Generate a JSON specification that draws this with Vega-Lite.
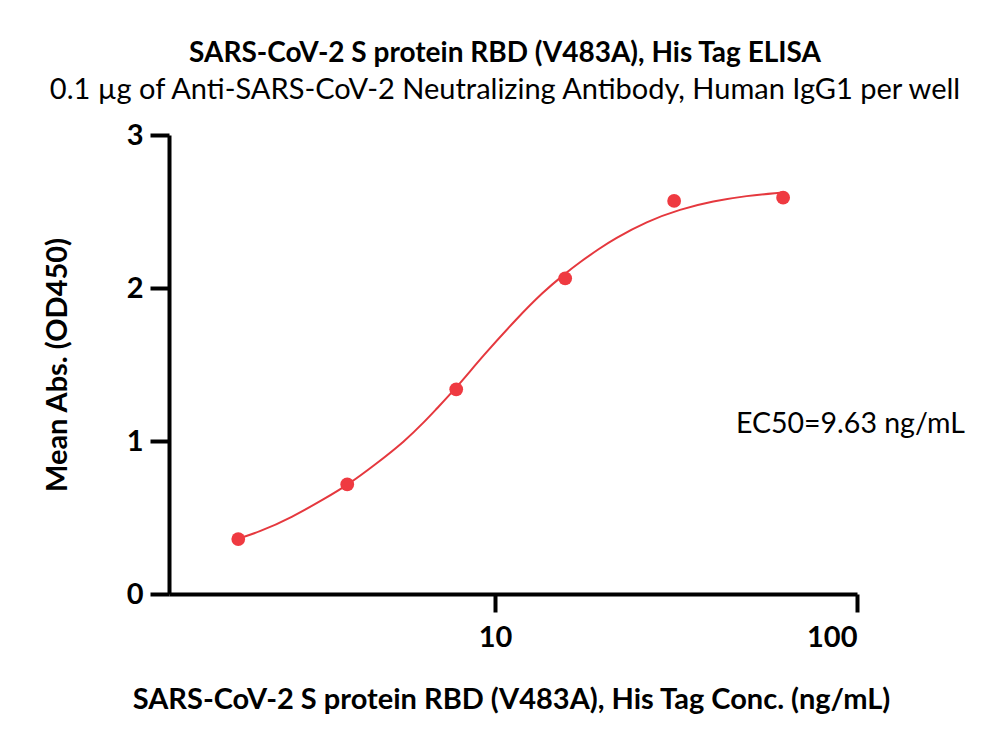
{
  "$schema": "https://vega.github.io/schema/vega-lite/v6.json",
  "width": 688,
  "height": 459,
  "autosize": "none",
  "padding": {"left": 169, "top": 135, "right": 143, "bottom": 157},
  "background": "white",
  "config": {"view": {"stroke": null}, "font": "Lato"},
  "title": {
    "text": "SARS-CoV-2 S protein RBD (V483A), His Tag ELISA",
    "subtitle": "0.1 µg of Anti-SARS-CoV-2 Neutralizing Antibody, Human IgG1 per well",
    "font": "Lato",
    "fontSize": 28,
    "fontWeight": "bold",
    "color": "black",
    "subtitleFont": "Lato",
    "subtitleFontSize": 29,
    "subtitleFontWeight": "normal",
    "subtitleColor": "black",
    "subtitlePadding": 8,
    "anchor": "middle",
    "frame": "group",
    "dx": -8,
    "offset": 16
  },
  "datasets": {
    "points": [
      {"conc": 1.953, "od": 0.359},
      {"conc": 3.906, "od": 0.716},
      {"conc": 7.813, "od": 1.338},
      {"conc": 15.625, "od": 2.063},
      {"conc": 31.25, "od": 2.569},
      {"conc": 62.5, "od": 2.59}
    ],
    "curve": [
      {"conc": 1.946, "od": 0.361},
      {"conc": 2.219, "od": 0.403},
      {"conc": 2.744, "od": 0.5},
      {"conc": 3.392, "od": 0.625},
      {"conc": 3.902, "od": 0.71},
      {"conc": 4.662, "od": 0.845},
      {"conc": 5.641, "od": 1.0},
      {"conc": 6.407, "od": 1.13},
      {"conc": 6.829, "od": 1.2},
      {"conc": 7.803, "od": 1.345},
      {"conc": 9.284, "od": 1.56},
      {"conc": 11.48, "od": 1.8},
      {"conc": 13.59, "od": 1.975},
      {"conc": 15.54, "od": 2.09},
      {"conc": 17.17, "od": 2.17},
      {"conc": 19.5, "od": 2.26},
      {"conc": 21.23, "od": 2.318},
      {"conc": 26.25, "od": 2.435},
      {"conc": 32.44, "od": 2.515},
      {"conc": 40.09, "od": 2.568},
      {"conc": 49.57, "od": 2.603},
      {"conc": 61.27, "od": 2.623},
      {"conc": 62.5, "od": 2.625}
    ],
    "note": [{"conc": 46.3, "od": 1.052, "label": "EC50=9.63 ng/mL"}]
  },
  "encoding": {
    "x": {
      "field": "conc",
      "type": "quantitative",
      "scale": {"type": "log", "domain": [1.257, 100], "nice": false},
      "axis": {
        "values": [10, 100],
        "format": "d",
        "grid": false,
        "domainColor": "black",
        "domainWidth": 4,
        "tickColor": "black",
        "tickWidth": 4,
        "tickSize": 18,
        "labelFont": "Lato",
        "labelFontSize": 29,
        "labelFontWeight": "bold",
        "labelColor": "black",
        "labelPadding": 11,
        "title": "SARS-CoV-2 S protein RBD (V483A), His Tag Conc. (ng/mL)",
        "titleFont": "Lato",
        "titleFontSize": 29,
        "titleFontWeight": "bold",
        "titleColor": "black",
        "titleBaseline": "alphabetic",
        "titleX": 342,
        "titleY": 114
      }
    },
    "y": {
      "field": "od",
      "type": "quantitative",
      "scale": {"domain": [0, 3], "nice": false},
      "axis": {
        "values": [0, 1, 2, 3],
        "grid": false,
        "domainColor": "black",
        "domainWidth": 4,
        "tickColor": "black",
        "tickWidth": 4,
        "tickSize": 19,
        "labelFont": "Lato",
        "labelFontSize": 29,
        "labelFontWeight": "bold",
        "labelColor": "black",
        "labelPadding": 7,
        "title": "Mean Abs. (OD450)",
        "titleFont": "Lato",
        "titleFontSize": 29,
        "titleFontWeight": "bold",
        "titleColor": "black",
        "titleX": -112,
        "titleY": 229.5,
        "titleBaseline": "middle"
      }
    }
  },
  "layer": [
    {
      "data": {"name": "curve"},
      "mark": {"type": "line", "color": "#e5383e", "strokeWidth": 2, "interpolate": "basis"}
    },
    {
      "data": {"name": "points"},
      "mark": {"type": "point", "filled": true, "size": 190, "color": "#ef3a41", "opacity": 1}
    },
    {
      "data": {"name": "note"},
      "mark": {"type": "text", "align": "left", "baseline": "alphabetic", "fontSize": 28.5, "font": "Lato", "color": "black"},
      "encoding": {"text": {"field": "label"}}
    }
  ]
}
